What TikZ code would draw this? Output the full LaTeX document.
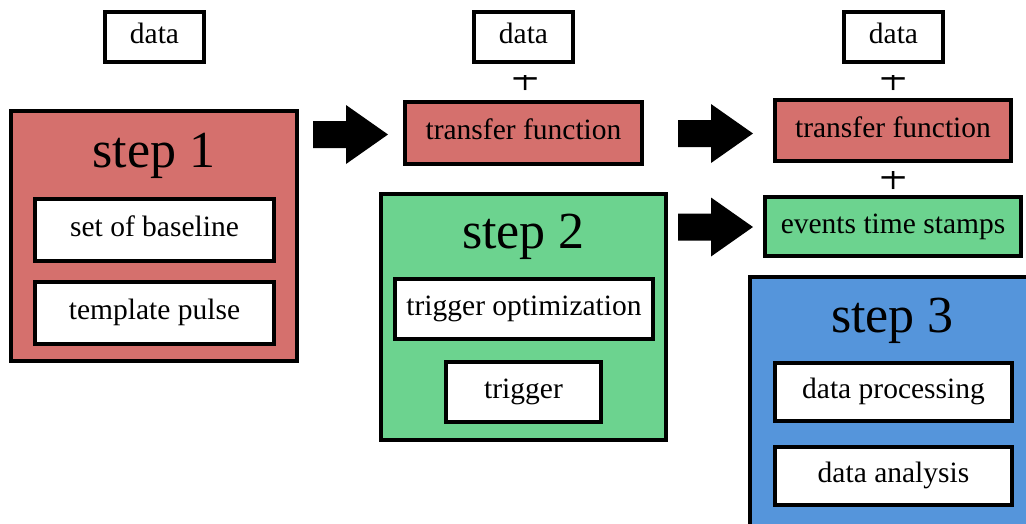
\documentclass[tikz,border=0pt]{standalone}
\usepackage{fontspec}
\setmainfont{Liberation Serif}
\definecolor{stepred}{HTML}{D5706D}
\definecolor{stepgreen}{HTML}{6CD38F}
\definecolor{stepblue}{HTML}{5595DB}
\tikzset{
  box/.style={draw=black, line width=4pt, inner sep=0pt,
    text height=20.6pt, text depth=7.4pt,
    font=\fontsize{29.5}{35}\selectfont},
  panel/.style={draw=black, line width=4pt, inner sep=0pt},
  steptitle/.style={anchor=base, inner sep=0pt,
    font=\fontsize{52}{60}\selectfont},
  plussign/.style={inner sep=0pt, font=\fontsize{50}{60}\selectfont},
  blockarrow/.pic={\fill[black] (0,-13.5) -- (33,-13.5) -- (33,-29.5)
    -- (75,0) -- (33,29.5) -- (33,13.5) -- (0,13.5) -- cycle;}
}
\begin{document}
\begin{tikzpicture}[x=1pt,y=-1pt]
\useasboundingbox (0,0) rectangle (1026,523);
\clip (0,0) rectangle (1026,523);

% step 1 panel
\node[panel, fill=stepred, minimum width=286pt, minimum height=250pt] (s1) at (154,236) {};
\node[steptitle] (t1) at (154,167) {step 1};
\node[box, fill=white, minimum width=239pt, minimum height=62pt] (base) at (154.5,230) {set of baseline};
\node[box, fill=white, minimum width=239pt, minimum height=62pt] (tmpl) at (154.5,313) {template pulse};
\node[box, fill=white, minimum width=99pt, minimum height=50pt] (d1) at (154.5,37) {data};

% step 2 panel
\node[panel, fill=stepgreen, minimum width=285pt, minimum height=246pt] (s2) at (523.5,317) {};
\node[steptitle] (t2) at (523.5,248) {step 2};
\node[box, fill=white, minimum width=258pt, minimum height=60pt] (topt) at (524,309) {trigger optimization};
\node[box, fill=white, minimum width=155pt, minimum height=60pt] (trig) at (523.5,392) {trigger};
\node[box, fill=white, minimum width=99pt, minimum height=50pt] (d2) at (523.5,37) {data};
\node[box, fill=stepred, minimum width=237pt, minimum height=62pt] (tf2) at (523.5,133) {transfer function};

% step 3 panel, running past the lower and right edges
\node[panel, fill=stepblue, minimum width=285pt, minimum height=256pt] (s3) at (892.5,405) {};
\node[steptitle] (t3) at (892.5,332) {step 3};
\node[box, fill=white, minimum width=237pt, minimum height=58pt] (proc) at (893.5,392) {data processing};
\node[box, fill=white, minimum width=237pt, minimum height=58pt] (ana) at (893.5,476) {data analysis};
\node[box, fill=white, minimum width=99pt, minimum height=50pt] (d3) at (893.5,37) {data};
\node[box, fill=stepred, minimum width=236pt, minimum height=61pt] (tf3) at (893,130.5) {transfer function};
\node[box, fill=stepgreen, minimum width=256pt, minimum height=59pt] (ets) at (893,226.5) {events time stamps};

% plus signs between the stacked inputs
\begin{scope}
  \clip (490,75) rectangle (560,100);
  \node[plussign] (p1) at (526,81) {+};
\end{scope}
\begin{scope}
  \clip (860,75) rectangle (930,100);
  \node[plussign] (p2) at (894,81) {+};
\end{scope}
\begin{scope}
  \clip (860,171) rectangle (930,190);
  \node[plussign] (p3) at (894,180) {+};
\end{scope}

% block arrows
\pic (a1) at (313,134.5) {blockarrow};
\pic (a2) at (678,133.5) {blockarrow};
\pic (a3) at (678,227) {blockarrow};
\end{tikzpicture}
\end{document}
